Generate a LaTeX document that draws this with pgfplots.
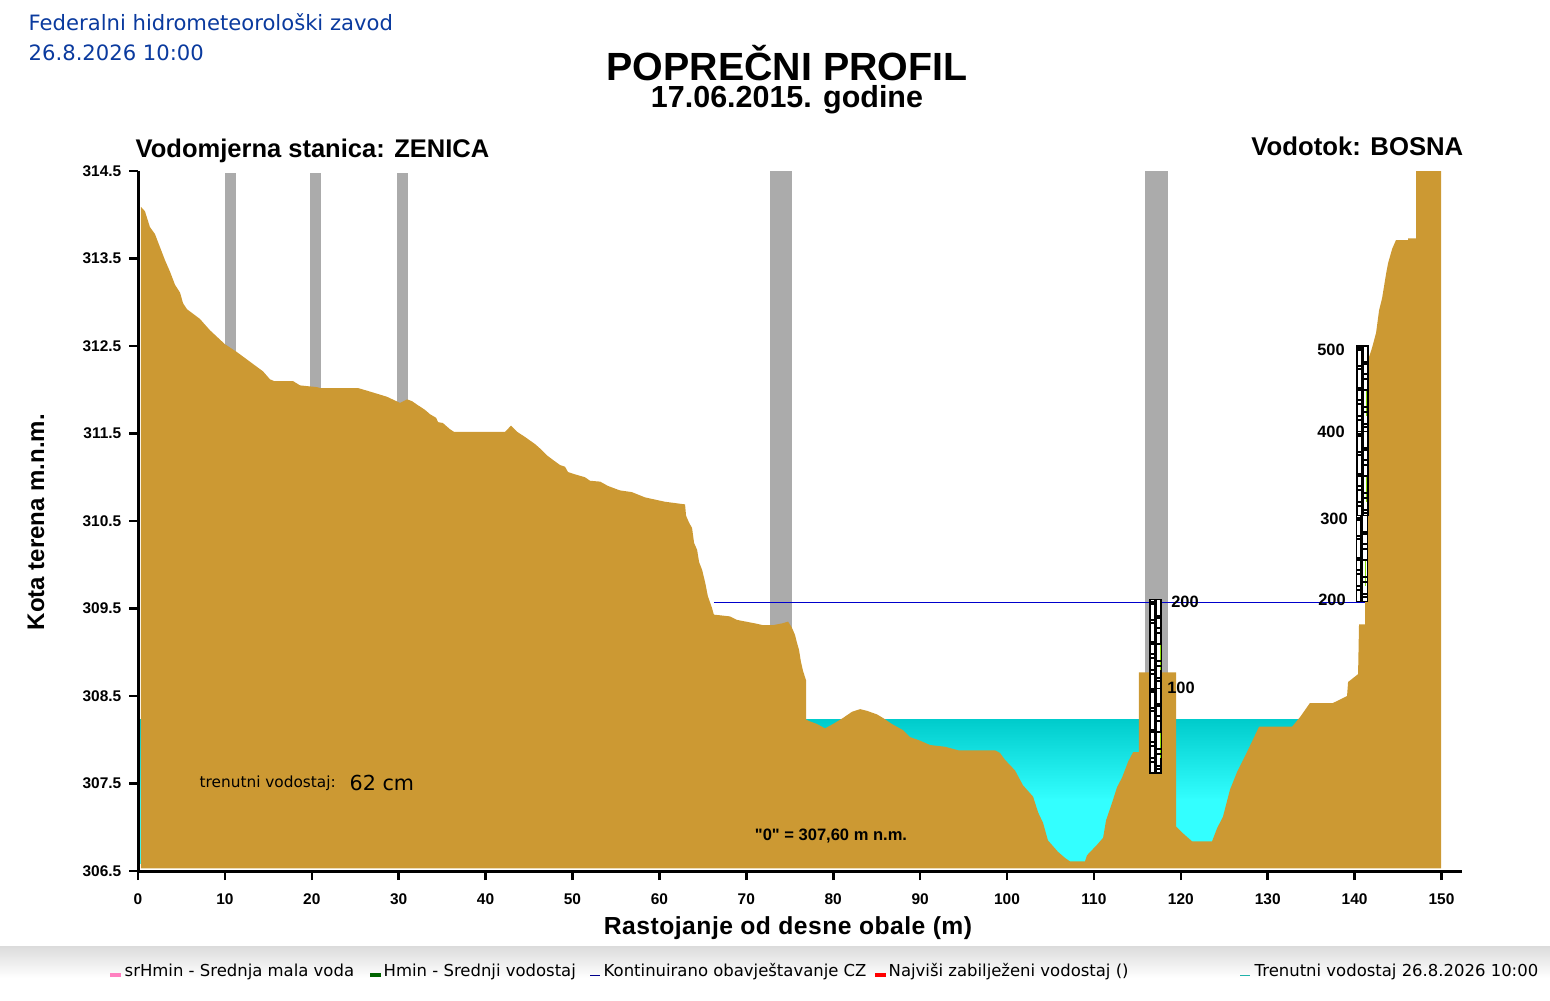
\documentclass[border=0pt]{standalone}
\usepackage{pgfplots}
\usepackage{pgfplotstable}
\usepackage{fontspec}
\pgfplotsset{compat=1.18}
\setmainfont{Liberation Sans}
\newfontfamily\dv{DejaVu Sans}
\newfontfamily\lsplain{Liberation Sans}
\definecolor{ground}{HTML}{CC9933}
\definecolor{wtop}{HTML}{00CCCC}
\definecolor{wbot}{HTML}{33FFFF}
\definecolor{col}{HTML}{ABABAB}
\definecolor{head}{HTML}{0A3A9E}
\definecolor{gaugeg}{HTML}{88DD00}
\definecolor{blueline}{HTML}{0000CC}
\definecolor{legpink}{HTML}{FF80C0}
\definecolor{leggreen}{HTML}{006400}
\definecolor{legnavy}{HTML}{00008B}
\definecolor{legteal}{HTML}{20B2AA}
\pgfplotstableread{
x y
0.34 306.53
0.34 314.09
0.80 314.04
1.37 313.86
1.95 313.78
2.53 313.63
3.11 313.48
3.68 313.35
4.26 313.20
4.84 313.11
5.18 312.99
5.64 312.92
7.12 312.81
8.28 312.68
10.01 312.52
11.39 312.43
12.89 312.32
14.39 312.21
15.18 312.12
15.64 312.10
17.83 312.10
18.64 312.05
20.60 312.03
20.95 312.02
25.30 312.02
26.34 311.99
28.65 311.92
30.15 311.85
30.96 311.89
31.53 311.87
32.11 311.83
33.03 311.77
33.61 311.72
34.30 311.68
34.53 311.63
35.08 311.62
35.89 311.55
36.35 311.52
42.24 311.52
42.93 311.59
43.62 311.52
44.54 311.46
45.68 311.38
46.25 311.33
47.06 311.25
47.87 311.19
48.56 311.14
49.14 311.12
49.48 311.06
50.06 311.04
51.44 311.00
52.02 310.96
53.18 310.95
54.10 310.90
55.45 310.85
56.84 310.83
58.34 310.77
59.72 310.74
60.65 310.72
62.95 310.69
63.07 310.56
63.42 310.48
63.76 310.42
63.99 310.25
64.34 310.17
64.57 310.03
64.92 309.94
65.26 309.80
65.58 309.64
66.04 309.51
66.27 309.43
68.12 309.41
68.92 309.37
69.96 309.35
71.00 309.33
71.92 309.31
73.08 309.31
74.12 309.33
74.81 309.35
75.25 309.28
75.60 309.20
75.83 309.11
76.06 309.03
76.29 308.89
76.52 308.79
76.87 308.68
76.87 308.23
77.33 308.21
78.14 308.18
79.06 308.13
79.98 308.18
81.14 308.25
82.17 308.32
83.10 308.35
83.91 308.33
85.03 308.29
85.72 308.25
86.76 308.18
88.03 308.11
88.84 308.03
89.99 307.99
91.14 307.94
92.88 307.92
94.38 307.88
98.61 307.88
99.19 307.85
99.77 307.77
100.92 307.65
101.84 307.48
103.00 307.35
103.58 307.17
104.15 307.05
104.71 306.85
105.86 306.72
106.67 306.65
107.25 306.61
108.98 306.61
109.21 306.68
110.36 306.80
111.06 306.88
111.40 307.08
112.09 307.28
112.67 307.46
113.25 307.57
113.94 307.75
114.52 307.86
115.18 307.86
115.18 308.77
119.45 308.77
119.45 307.01
120.26 306.93
121.29 306.84
123.60 306.84
124.18 306.99
124.85 307.12
125.66 307.43
126.47 307.63
127.62 307.86
129.01 308.15
132.81 308.15
133.73 308.26
134.86 308.42
137.51 308.42
139.13 308.50
139.25 308.66
140.40 308.75
140.51 309.32
141.21 309.32
141.21 309.57
141.55 312.34
142.01 312.48
142.47 312.65
142.82 312.91
143.17 313.05
143.63 313.33
143.86 313.45
144.32 313.61
144.76 313.71
146.15 313.71
146.15 313.73
147.07 313.73
147.07 314.50
149.96 314.50
149.96 306.53
}\profile
\pgfplotstableread{
d e
.023 0
.046 0
.229 0
.263 0
.48 0
.503 0
.617 0
.663 0
.8 0
.846 0
}\leftstripes
\pgfplotstableread{
d e
.183 0
.206 0
.32 0
.377 0
.503 0
.697 0
.754 0
.891 0
.926 0
}\rightstripes
% one section of a staff gauge: left, right, top, bottom, mid, left centre, right centre, green x
\newcommand\gaugesec[8]{%
  \addplot[fill=white,draw=black,line width=.9pt] coordinates {(#1,#4)(#1,#3)(#2,#3)(#2,#4)} -- cycle;
  \addplot[black,line width=2.4pt] coordinates {(#5,#3)(#5,#4)};
  \addplot[only marks,mark=-,mark size=2pt,mark options={black,line width=1.3pt}] table[x expr=#6,y expr=#3-\thisrow{d}] {\leftstripes};
  \addplot[only marks,mark=-,mark size=2pt,mark options={black,line width=1.3pt}] table[x expr=#7,y expr=#3-\thisrow{d}] {\rightstripes};
  \pgfmathsetmacro\gtop{#3-0.503}\pgfmathsetmacro\gbot{#3-0.8}%
  \addplot[gaugeg,line width=.75pt] coordinates {(#8,\gtop)(#8,\gbot)};
}
\begin{document}
\begin{tikzpicture}[x=.75pt,y=-.75pt]
\path (0,0) rectangle (1550,1000);
\shade[top color=black!14,bottom color=white] (0,946) rectangle (1550,978);
\begin{axis}[
  at={(103.5pt,-653.25pt)},anchor=south west,
  scale only axis,width=993pt,height=525pt,
  xmin=0,xmax=152.36,ymin=306.5,ymax=314.5,
  axis lines=left,axis line style={-,line width=2.25pt},
  axis on top,
  tick align=outside,
  major tick length=6.75pt,
  tick style={black,line width=1.95pt},
  xtick={0,10,...,150},
  ytick={306.5,307.5,...,314.5},
  tick label style={font=\bfseries\fontsize{11.6}{13}\selectfont},
  /pgf/number format/.cd,fixed,fixed zerofill,1000 sep={},assume math mode=true,
  /pgfplots/.cd,
  yticklabel style={/pgf/number format/precision=1,xshift=-2.25pt},
  xticklabel style={/pgf/number format/precision=0,yshift=-6.5pt},
  clip=false,
]
% grey columns
\addplot[fill=col,draw=none] coordinates {(10.01,311)(10.01,314.48)(11.28,314.48)(11.28,311)} -- cycle;
\addplot[fill=col,draw=none] coordinates {(19.79,311)(19.79,314.48)(21.06,314.48)(21.06,311)} -- cycle;
\addplot[fill=col,draw=none] coordinates {(29.80,311)(29.80,314.48)(31.07,314.48)(31.07,311)} -- cycle;
\addplot[fill=col,draw=none] coordinates {(72.73,309)(72.73,314.5)(75.26,314.5)(75.26,309)} -- cycle;
\addplot[fill=col,draw=none] coordinates {(115.88,308.5)(115.88,314.5)(118.53,314.5)(118.53,308.5)} -- cycle;
% water
\addplot[draw=none,top color=wtop,bottom color=wbot] coordinates {(0.2,307.31)(0.2,308.23)(135,308.23)(135,307.31)} -- cycle;
\addplot[fill=wbot,draw=none] coordinates {(0.2,306.58)(0.2,307.32)(135,307.32)(135,306.58)} -- cycle;
% water level line
\addplot[blueline,line width=.75pt] coordinates {(66.28,309.57)(141.18,309.57)};
% ground
\addplot[fill=ground,draw=none] table[x=x,y=y] {\profile} -- cycle;
% gauges
\gaugesec{116.46}{117.72}{309.60}{308.59}{117.09}{116.75}{117.43}{117.64}
\gaugesec{116.46}{117.72}{308.59}{307.62}{117.09}{116.75}{117.43}{117.64}
\gaugesec{140.28}{141.55}{312.50}{311.52}{140.91}{140.57}{141.26}{141.39}
\gaugesec{140.28}{141.55}{311.52}{310.56}{140.91}{140.57}{141.26}{141.39}
\gaugesec{140.18}{141.45}{310.56}{309.58}{140.81}{140.47}{141.16}{141.29}
\end{axis}
% texts
\node[text=head,anchor=west,font=\dv\fontsize{15.85}{18}\selectfont] at (24,22) {Federalni hidrometeorološki zavod};
\node[text=head,anchor=west,font=\dv\fontsize{15.85}{18}\selectfont] at (24,53) {26.8.2026 10:00};
\node[inner sep=0pt,font=\bfseries\fontsize{29.5}{32}\selectfont] at (787,63) {POPREČNI PROFIL};
\node[inner sep=0pt,font=\bfseries\fontsize{22.85}{24}\selectfont] at (787,100) {17.06.2015. godine};
\node[anchor=west,font=\bfseries\fontsize{19.14}{21}\selectfont] at (131,151) {Vodomjerna stanica: ZENICA};
\node[anchor=east,font=\bfseries\fontsize{19.28}{21}\selectfont] at (1468,146) {Vodotok: BOSNA};
\node[rotate=90,font=\bfseries\fontsize{18}{20}\selectfont] at (36,522) {Kota terena m.n.m.};
\node[font=\bfseries\fontsize{18.5}{20}\selectfont\addfontfeatures{LetterSpace=2}] at (788,928) {Rastojanje od desne obale (m)};
\node[anchor=west,font=\dv\fontsize{11.5}{13}\selectfont] at (195,783) {trenutni vodostaj:};
\node[anchor=west,font=\dv\fontsize{15.5}{18}\selectfont] at (345,783) {62 cm};
\node[font=\lsplain\bfseries\fontsize{12.4}{14}\selectfont] at (831,836) {"0" = 307,60 m n.m.};
\node[font=\bfseries\fontsize{12.3}{14}\selectfont] at (1185,602) {200};
\node[font=\bfseries\fontsize{12.3}{14}\selectfont] at (1181,688) {100};
\node[font=\bfseries\fontsize{12.3}{14}\selectfont] at (1331,350) {500};
\node[font=\bfseries\fontsize{12.3}{14}\selectfont] at (1331,432) {400};
\node[font=\bfseries\fontsize{12.3}{14}\selectfont] at (1334,519) {300};
\node[font=\bfseries\fontsize{12.3}{14}\selectfont] at (1332,600) {200};
% legend
\fill[legpink] (110,973) rectangle (121,977);
\fill[leggreen] (370,973) rectangle (381,977);
\fill[legnavy] (590,974.5) rectangle (600,975.5);
\fill[red] (875,973) rectangle (886,977);
\fill[legteal] (1240,974.5) rectangle (1250,975.5);
\node[anchor=west,font=\dv\fontsize{12.35}{14}\selectfont] at (120,972) {srHmin - Srednja mala voda};
\node[anchor=west,font=\dv\fontsize{12.35}{14}\selectfont] at (379,972) {Hmin - Srednji vodostaj};
\node[anchor=west,font=\dv\fontsize{12.35}{14}\selectfont] at (599,972) {Kontinuirano obavještavanje CZ};
\node[anchor=west,font=\dv\fontsize{12.35}{14}\selectfont] at (884,972) {Najviši zabilježeni vodostaj ()};
\node[anchor=west,font=\dv\fontsize{12.35}{14}\selectfont] at (1250,972) {Trenutni vodostaj 26.8.2026 10:00};
\end{tikzpicture}
\end{document}
